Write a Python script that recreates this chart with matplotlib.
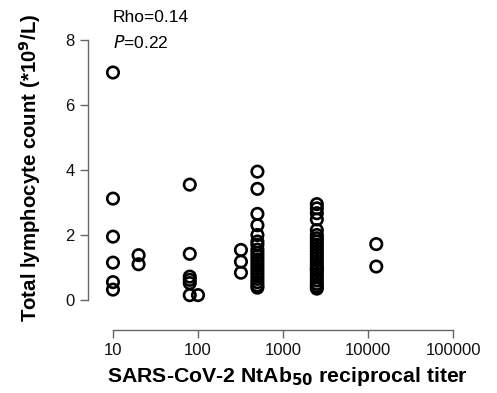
import numpy as np
import matplotlib.pyplot as plt

plt.rcParams['font.family'] = ['Liberation Sans', 'DejaVu Sans']

# titers and lymphocyte counts, one list per titer group
titer_10 = [7.0, 3.12, 1.95, 1.15, 0.55, 0.32]
titer_20 = [1.38, 1.1]
titer_80 = [3.55, 1.42, 0.72, 0.62, 0.52, 0.15]
titer_100 = [0.15]
titer_320 = [1.54, 1.18, 0.84]
titer_500 = [3.95, 3.42, 2.65, 2.3, 2.0, 1.8, 1.7, 1.55, 1.45, 1.35, 1.25,
             1.15, 1.05, 0.95, 0.85, 0.75, 0.65, 0.55, 0.45, 0.38]
titer_2500 = [2.95, 2.82, 2.67, 2.48, 2.15, 2.0, 1.9, 1.8, 1.7, 1.6, 1.5,
              1.4, 1.3, 1.2, 1.1, 1.0, 0.95, 0.9, 0.8, 0.7, 0.6, 0.5,
              0.42, 0.35]
titer_12500 = [1.72, 1.03]

groups = {10: titer_10, 20: titer_20, 80: titer_80, 100: titer_100,
          320: titer_320, 500: titer_500, 2500: titer_2500, 12500: titer_12500}

x = []
y = []
for t, vals in groups.items():
    x += [t] * len(vals)
    y += vals

W, H = 497, 393
fig = plt.figure(figsize=(W / 100, H / 100), dpi=100)
# axes in pixel coords: left 88, right 460, top 35, bottom 330
ax = fig.add_axes([88 / W, (H - 330) / H, (460 - 88) / W, (330 - 35) / H])

ax.scatter(x, y, s=68, facecolors='none', edgecolors='black', linewidths=1.9, zorder=3)

ax.set_xscale('log')
ax.set_xlim(10 ** 0.706, 10 ** 5.082)
ax.set_ylim(-0.923, 8.154)

ax.set_xticks([10, 100, 1000, 10000, 100000])
ax.set_xticklabels(['10', '100', '1000', '10000', '100000'])
ax.minorticks_off()
ax.set_yticks([0, 2, 4, 6, 8])

for s in ['top', 'right']:
    ax.spines[s].set_visible(False)
ax.spines['left'].set_bounds(0, 8)
ax.spines['bottom'].set_bounds(10, 100000)
for s in ['left', 'bottom']:
    ax.spines[s].set_color('#666666')
    ax.spines[s].set_linewidth(1.0)
ax.tick_params(axis='both', colors='#666666', length=6, width=1.0,
               labelsize=12, labelcolor='#111111')

ax.set_xlabel('SARS-CoV-2 NtAb$_{\\mathbf{50}}$ reciprocal titer',
              fontsize=15.3, fontweight='bold')
ax.xaxis.set_label_coords((287 - 88) / (460 - 88), -(365 - 330) / (330 - 35))
ax.set_ylabel('Total lymphocyte count (*10$^{\\mathbf{9}}$/L)',
              fontsize=14.7, fontweight='bold')
ax.yaxis.set_label_coords(-(88 - 43) / (460 - 88), (330 - 168) / (330 - 35))

fig.text(113 / W, 1 - 17 / H, 'Rho=0.14', fontsize=12.5, va='center', ha='left')
fig.text(113 / W, 1 - 42 / H, '$\\it{P}$=0.22', fontsize=12.5, va='center', ha='left')

fig.savefig('out.png', dpi=100)
